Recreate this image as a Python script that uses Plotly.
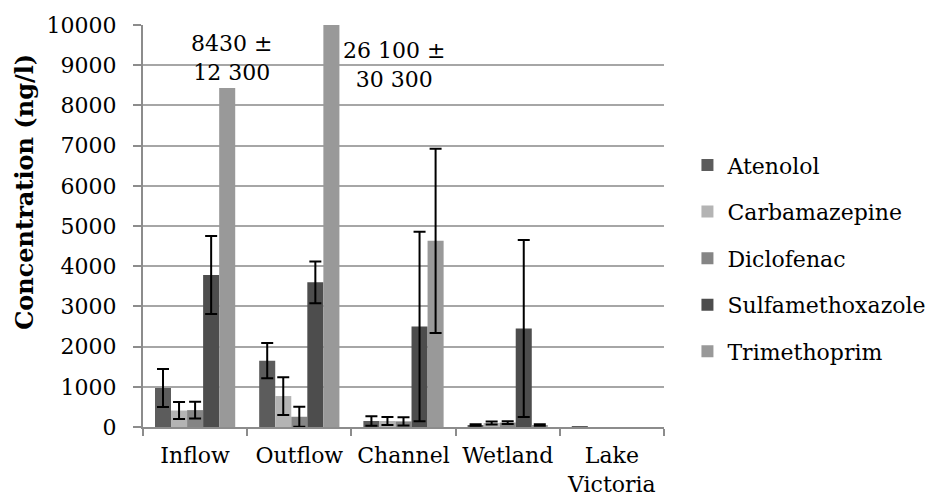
import plotly.graph_objects as go

categories = ["Inflow", "Outflow", "Channel", "Wetland", "Lake<br>Victoria"]
series_names = ["Atenolol", "Carbamazepine", "Diclofenac", "Sulfamethoxazole", "Trimethoprim"]
colors = ["#5c5c5c", "#b4b4b4", "#858585", "#4d4d4d", "#999999"]

# None = no error bar drawn
atenolol = [970, 1650, 150, 50, 15]
atenolol_err = [470, 440, 120, 20, None]
carbamazepine = [410, 770, 150, 100, 0]
carbamazepine_err = [210, 470, 100, 35, None]
diclofenac = [420, 255, 140, 110, 0]
diclofenac_err = [210, 250, 100, 35, None]
sulfamethoxazole = [3780, 3600, 2500, 2450, 0]
sulfamethoxazole_err = [970, 520, 2360, 2200, None]
trimethoprim = [8430, 26100, 4630, 50, 0]
trimethoprim_err = [None, None, 2290, 20, None]

values = [atenolol, carbamazepine, diclofenac, sulfamethoxazole, trimethoprim]
errors = [atenolol_err, carbamazepine_err, diclofenac_err, sulfamethoxazole_err, trimethoprim_err]

annotation_texts = ["8430 ±<br>12 300", "26 100 ±<br>30 300"]
annotation_x = [0.354, 1.91]
annotation_y = [9170, 9000]

y_ticks = list(range(0, 10001, 1000))

FONT = "DejaVu Serif"
FS = 22

fig = go.Figure()
for i, name in enumerate(series_names):
    err = ["NaN" if e is None else e for e in errors[i]]
    fig.add_trace(go.Bar(
        name=name,
        x=categories,
        y=values[i],
        marker=dict(color=colors[i], line=dict(width=0)),
        error_y=dict(type="data", array=err, visible=True,
                     color="black", thickness=2, width=6),
        legendgroup=name,
    ))

for t, ax, ay in zip(annotation_texts, annotation_x, annotation_y):
    fig.add_annotation(x=ax, y=ay, xref="x", yref="y", text=t,
                       showarrow=False, xanchor="center", yanchor="middle",
                       font=dict(family=FONT, size=FS, color="black"))

fig.add_annotation(x=-0.2265, y=0.585, xref="paper", yref="paper",
                   text="<b>Concentration (ng/l)</b>", textangle=-90,
                   showarrow=False, xanchor="center", yanchor="middle",
                   font=dict(family=FONT, size=24, color="black"))

fig.update_layout(
    width=931, height=501,
    margin=dict(l=143, r=267, t=25, b=74, autoexpand=False),
    paper_bgcolor="white", plot_bgcolor="white",
    barmode="group", bargap=0.23, bargroupgap=0,
    font=dict(family=FONT, size=FS, color="black"),
    showlegend=True,
    legend=dict(x=1.045, y=0.42, xanchor="left", yanchor="middle",
                traceorder="grouped", tracegroupgap=15,
                font=dict(family=FONT, size=FS, color="black"),
                bgcolor="rgba(0,0,0,0)"),
    xaxis=dict(
        showline=True, linecolor="#8c8c8c", linewidth=2,
        ticks="outside", tickson="boundaries", ticklen=7, tickcolor="#8c8c8c", tickwidth=2,
        showgrid=False, tickangle=0, automargin=False,
        tickfont=dict(family=FONT, size=FS, color="black"),
        ticklabelstandoff=8,
    ),
    yaxis=dict(
        range=[0, 10000], tickvals=y_ticks, tickformat="d",
        showline=True, linecolor="#8c8c8c", linewidth=2,
        ticks="outside", ticklen=8, tickcolor="#8c8c8c", tickwidth=2,
        showgrid=True, gridcolor="#a6a6a6", gridwidth=2,
        zeroline=False, automargin=False,
        tickfont=dict(family=FONT, size=FS, color="black"),
        ticklabelstandoff=12,
    ),
)

fig.write_html("out.html")
